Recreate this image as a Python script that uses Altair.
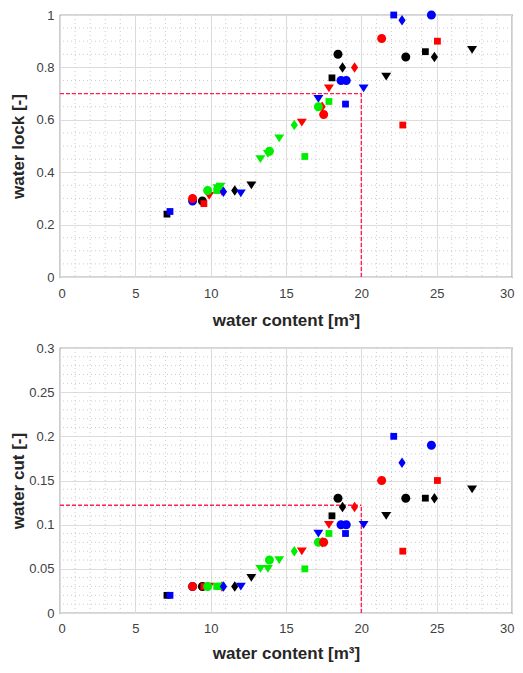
import altair as alt
import pandas as pd

# ---- data ----
x_vals = [7.1, 7.3, 8.8, 8.8, 9.45, 9.55, 9.9, 9.8, 10.75, 10.4, 10.45, 10.6, 10.65, 10.85,
          11.6, 12.0, 12.7, 13.3, 13.8, 13.9, 14.55, 15.55, 16.05, 16.25, 17.15, 17.4, 17.15,
          17.5, 17.85, 17.85, 18.05, 18.45, 18.75, 18.65, 19.0, 18.95, 19.55, 20.15, 21.35,
          21.65, 22.15, 22.7, 22.75, 22.95, 24.25, 24.65, 24.85, 25.05, 27.35]
colors = ["black", "blue", "blue", "red", "black", "red", "red", "green", "red", "green",
          "green", "green", "green", "blue", "black", "blue", "black", "green", "green", "green",
          "green", "green", "red", "green", "blue", "red", "green", "red", "green", "red",
          "black", "black", "black", "blue", "blue", "blue", "red", "blue", "red", "black",
          "blue", "blue", "red", "black", "black", "blue", "black", "red", "black"]
shapes = ["square", "square", "circle", "circle", "circle", "square", "tri", "circle", "diamond", "square",
          "tri", "square", "tri", "diamond", "diamond", "tri", "tri", "tri", "tri", "circle",
          "tri", "diamond", "tri", "square", "tri", "diamond", "circle", "circle", "square", "tri",
          "square", "circle", "diamond", "circle", "circle", "square", "diamond", "tri", "circle", "tri",
          "square", "diamond", "square", "circle", "square", "circle", "diamond", "square", "tri"]
lock_vals = [0.24, 0.25, 0.29, 0.30, 0.29, 0.28, 0.31, 0.33, 0.33, 0.33, 0.34, 0.345, 0.345, 0.325,
             0.33, 0.32, 0.35, 0.45, 0.47, 0.48, 0.53, 0.58, 0.59, 0.46, 0.68, 0.65, 0.65,
             0.62, 0.67, 0.72, 0.76, 0.85, 0.80, 0.75, 0.75, 0.66, 0.80, 0.72, 0.91,
             0.765, 1.0, 0.98, 0.58, 0.84, 0.86, 1.0, 0.84, 0.90, 0.867]
cut_vals = [0.02, 0.02, 0.03, 0.03, 0.03, 0.03, 0.03, 0.03, 0.03, 0.03, 0.03, 0.03, 0.03, 0.03,
            0.03, 0.03, 0.04, 0.05, 0.05, 0.06, 0.06, 0.07, 0.07, 0.05, 0.09, 0.08, 0.08,
            0.08, 0.09, 0.10, 0.11, 0.13, 0.12, 0.10, 0.10, 0.09, 0.12, 0.10, 0.15,
            0.11, 0.20, 0.17, 0.07, 0.13, 0.13, 0.19, 0.13, 0.15, 0.14]

x_ticks = [0, 5, 10, 15, 20, 25, 30]
x_minor = [1, 2, 3, 4, 6, 7, 8, 9, 11, 12, 13, 14, 16, 17, 18, 19, 21, 22, 23, 24, 26, 27, 28, 29]
lock_ticks = [0, 0.2, 0.4, 0.6, 0.8, 1]
lock_minor = [0.05, 0.1, 0.15, 0.25, 0.3, 0.35, 0.45, 0.5, 0.55, 0.65, 0.7, 0.75, 0.85, 0.9, 0.95]
cut_ticks = [0, 0.05, 0.1, 0.15, 0.2, 0.25, 0.3]
cut_minor = [0.01, 0.02, 0.03, 0.04, 0.06, 0.07, 0.08, 0.09, 0.11, 0.12, 0.13, 0.14,
             0.16, 0.17, 0.18, 0.19, 0.21, 0.22, 0.23, 0.24, 0.26, 0.27, 0.28, 0.29]

ref_x = 20
lock_ref = 0.7
cut_ref = 0.122

color_domain = ["black", "red", "blue", "green"]
color_range = ["#000000", "#ff0000", "#0000ff", "#00ee00"]
shape_domain = ["circle", "square", "diamond", "tri"]
shape_range = [
    "M0,-0.9A0.9,0.9 0 1,1 0,0.9A0.9,0.9 0 1,1 0,-0.9Z",
    "M-0.68,-0.68L0.68,-0.68L0.68,0.68L-0.68,0.68Z",
    "M0,-1.05L0.72,0L0,1.05L-0.72,0Z",
    "M-1,-0.75L1,-0.75L0,0.8Z",
]

pts = pd.DataFrame({"x": x_vals, "c": colors, "s": shapes, "lock": lock_vals, "cut": cut_vals})

X_TITLE = "water content [m³]"


def panel(yfield, ytitle, yticks, yminor, ymax, yref, w, h, lab_pad_x, title_pad_x):
    xs = alt.Scale(domain=[0, 30], nice=False, zero=False)
    ys = alt.Scale(domain=[0, ymax], nice=False, zero=False)
    xaxis = alt.Axis(values=x_ticks, labelExpr="'' + datum.value", title=X_TITLE,
                     labelFlush=True, labelFlushOffset=2, grid=True, domain=False, ticks=False,
                     labelPadding=lab_pad_x, titlePadding=title_pad_x)
    yaxis = alt.Axis(values=yticks, labelExpr="'' + datum.value", title=ytitle,
                     labelFlush=False, grid=True, domain=False, ticks=False,
                     labelPadding=6, titlePadding=2, minExtent=31, maxExtent=31)

    def X(f):
        return alt.X(f, type="quantitative", scale=xs, axis=xaxis)

    def Y(f):
        return alt.Y(f, type="quantitative", scale=ys, axis=yaxis)

    vminor = alt.Chart(pd.DataFrame({"v": x_minor})).mark_rule(
        color="#cccccc", strokeDash=[1, 3], strokeWidth=1).encode(x=X("v"))
    hminor = alt.Chart(pd.DataFrame({"v": yminor})).mark_rule(
        color="#cccccc", strokeDash=[1, 3], strokeWidth=1).encode(y=Y("v"))
    ref = pd.DataFrame({"x0": [0], "x1": [ref_x], "y0": [0], "y1": [yref]})
    href = alt.Chart(ref).mark_rule(color="#ff2050", strokeDash=[4, 2], strokeWidth=1.4).encode(
        x=X("x0"), x2="x1", y=Y("y1"))
    vref = alt.Chart(ref).mark_rule(color="#ff2050", strokeDash=[4, 2], strokeWidth=1.4).encode(
        x=X("x1"), y=Y("y0"), y2="y1")
    points = alt.Chart(pts).mark_point(filled=True, size=100, opacity=1, strokeWidth=0).encode(
        x=X("x"), y=Y(yfield),
        color=alt.Color("c:N", scale=alt.Scale(domain=color_domain, range=color_range), legend=None),
        shape=alt.Shape("s:N", scale=alt.Scale(domain=shape_domain, range=shape_range), legend=None),
    )
    return alt.layer(vminor, hminor, href, vref, points).properties(width=w, height=h)


top = panel("lock", "water lock [-]", lock_ticks, lock_minor, 1, lock_ref, 452, 262, 10, 12)
bottom = panel("cut", "water cut [-]", cut_ticks, cut_minor, 0.3, cut_ref, 452, 265, 9.5, 10)

chart = alt.vconcat(top, bottom, spacing=12).properties(
    padding={"left": 0, "top": 0, "right": 0, "bottom": 0}
).configure_view(stroke="#555555", strokeWidth=1.2).configure_axis(
    labelFont="Liberation Sans", labelFontSize=13, labelColor="#404040",
    titleFont="Liberation Sans", titleFontSize=17, titleFontWeight="bold", titleColor="#262626",
    gridColor="#dcdcdc", gridWidth=1.1,
)

chart.save("out.html", embed_options={"renderer": "svg", "actions": False})
